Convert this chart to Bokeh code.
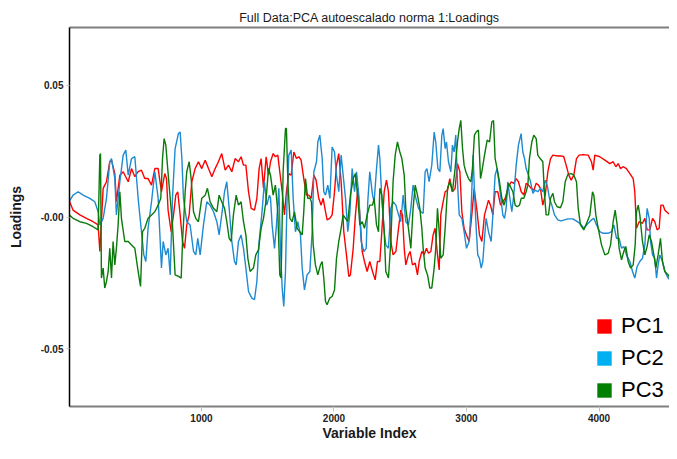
from bokeh.plotting import figure
from bokeh.models import (Range1d, FixedTicker, LinearAxis, Legend, LegendItem,
                          CustomJSTickFormatter)
from bokeh.embed import file_html
from bokeh.resources import INLINE

# ---- data (variable index, loading) ----
pc1 = [
    (1, 0.0064), (31, 0.0026), (82, 0.0008), (132, -0.0005), (182, -0.0018), (220, -0.0030), (233, -0.0131),
    (258, 0.0109), (283, 0.0134), (308, 0.0210), (321, 0.0216), (346, 0.0165), (358, 0.0058), (384, 0.0159),
    (409, 0.0172), (447, 0.0134), (472, 0.0184), (497, 0.0153), (522, 0.0172), (547, 0.0178), (572, 0.0146),
    (597, 0.0146), (623, 0.0121), (648, 0.0184), (673, 0.0184), (698, 0.0096), (723, 0.0165), (736, 0.0146),
    (748, 0.0026),
    (771, -0.0056), (789, 0.0008), (806, 0.0083), (821, 0.0096), (839, 0.0008), (857, -0.0093), (872, -0.0119),
    (889, -0.0030), (907, 0.0008), (927, 0.0134), (952, 0.0184), (977, 0.0210), (1002, 0.0184), (1028, 0.0216),
    (1053, 0.0184), (1078, 0.0153), (1103, 0.0184), (1128, 0.0210), (1153, 0.0241), (1179, 0.0178),
    (1204, 0.0197), (1229, 0.0172), (1254, 0.0222), (1279, 0.0210), (1299, 0.0229), (1317, 0.0197),
    (1335, 0.0197), (1355, 0.0096), (1375, 0.0033), (1400, 0.0026), (1418, 0.0071), (1435, 0.0184),
    (1450, 0.0222), (1468, 0.0109), (1488, 0.0229), (1506, 0.0159),
    (1521, 0.0210), (1541, 0.0241), (1558, 0.0229), (1576, 0.0235), (1591, 0.0172), (1609, 0.0096),
    (1626, 0.0008), (1641, 0.0096), (1659, 0.0165), (1677, 0.0159), (1697, 0.0247), (1717, 0.0222),
    (1735, 0.0229), (1752, 0.0216), (1772, 0.0146), (1792, 0.0083), (1810, 0.0083), (1828, 0.0071),
    (1848, 0.0159), (1865, 0.0140), (1885, 0.0071), (1903, 0.0045), (1918, 0.0071), (1936, 0.0020),
    (1948, -0.0011), (1968, -0.0005), (1986, 0.0008), (2004, 0.0096), (2019, 0.0197), (2036, 0.0241),
    (2054, 0.0134), (2074, -0.0056), (2094, -0.0144), (2112, -0.0226), (2124, -0.0220), (2145, -0.0119),
    (2162, 0.0008), (2180, 0.0109), (2195, 0.0008), (2213, -0.0131), (2230, -0.0169), (2250, -0.0207),
    (2270, -0.0169),
    (2291, -0.0207), (2311, -0.0239), (2328, -0.0169), (2346, -0.0169), (2361, -0.0056), (2379, 0.0096),
    (2396, 0.0140), (2411, 0.0096), (2429, -0.0093), (2446, -0.0144), (2467, -0.0131), (2484, -0.0056),
    (2504, 0.0026), (2517, 0.0008), (2530, -0.0119), (2542, -0.0182), (2562, -0.0144), (2575, -0.0131),
    (2592, -0.0182), (2613, -0.0175), (2630, -0.0220), (2643, -0.0169), (2663, -0.0131), (2680, -0.0144),
    (2698, -0.0119), (2713, -0.0138), (2731, -0.0131), (2748, -0.0068), (2763, -0.0043), (2781, -0.0144),
    (2794, -0.0201), (2806, 0.0008), (2819, 0.0045), (2839, 0.0096), (2857, 0.0102), (2874, 0.0146),
    (2894, 0.0096), (2914, 0.0109), (2932, 0.0203), (2950, 0.0172), (2965, 0.0020), (2982, -0.0043),
    (3000, -0.0068), (3020, -0.0093), (3040, 0.0008), (3058, 0.0109),
    (3080, 0.0020), (3098, -0.0068), (3116, -0.0093), (3136, 0.0008), (3156, 0.0045), (3166, 0.0064),
    (3181, 0.0045), (3199, 0.0008), (3216, 0.0096), (3236, 0.0096), (3257, 0.0045), (3274, 0.0058),
    (3292, 0.0071), (3312, 0.0109), (3337, 0.0134), (3357, 0.0128), (3375, 0.0146), (3392, 0.0134),
    (3413, 0.0096), (3433, 0.0083), (3450, 0.0128), (3468, 0.0121), (3488, 0.0109), (3508, 0.0102),
    (3526, 0.0128), (3543, 0.0121), (3558, 0.0109), (3576, 0.0045), (3594, 0.0083), (3614, 0.0172),
    (3634, 0.0222), (3652, 0.0235), (3689, 0.0232), (3714, 0.0232), (3734, 0.0229), (3752, 0.0197),
    (3772, 0.0159), (3790, 0.0140), (3810, 0.0159),
    (3830, 0.0222), (3850, 0.0235), (3880, 0.0237), (3918, 0.0235), (3943, 0.0210), (3956, 0.0178),
    (3968, 0.0235), (4006, 0.0229), (4044, 0.0216), (4082, 0.0203), (4107, 0.0210), (4127, 0.0191),
    (4145, 0.0203), (4162, 0.0184), (4182, 0.0191), (4207, 0.0184), (4233, 0.0165), (4258, 0.0146),
    (4270, 0.0096), (4283, -0.0043), (4303, -0.0018), (4328, -0.0024), (4346, -0.0005), (4363, -0.0049),
    (4384, -0.0049), (4404, -0.0005), (4421, -0.0018), (4439, -0.0049), (4454, -0.0043), (4467, 0.0045),
    (4484, 0.0045), (4497, 0.0026), (4522, 0.0014), (4547, 0.0008), (4565, 0.0033), (4580, 0.0090),
    (4592, 0.0102),
]

pc2 = [
    (1, 0.0058), (31, 0.0083), (69, 0.0096), (107, 0.0083), (157, 0.0071), (195, 0.0058), (220, 0.0020),
    (233, -0.0030), (258, -0.0005), (283, 0.0071), (308, 0.0210), (321, 0.0222), (346, 0.0146), (358, 0.0008),
    (384, 0.0134), (409, 0.0235), (429, 0.0254), (447, 0.0159), (472, 0.0222), (497, 0.0229), (522, 0.0071),
    (547, -0.0056), (565, -0.0144), (580, -0.0169), (597, -0.0043), (623, 0.0058), (648, 0.0172),
    (673, 0.0071), (698, -0.0194), (711, -0.0093), (731, -0.0144), (748, -0.0119),
    (764, -0.0220), (781, 0.0071), (801, 0.0260), (826, 0.0317), (839, 0.0323), (852, 0.0222), (864, 0.0071),
    (889, -0.0018), (914, -0.0030), (940, -0.0131), (957, -0.0144), (972, -0.0081), (990, -0.0144),
    (1015, -0.0030), (1040, 0.0058), (1065, 0.0045), (1091, 0.0020), (1116, -0.0018), (1133, -0.0068),
    (1153, 0.0008), (1174, 0.0096), (1191, 0.0134), (1209, 0.0033), (1229, -0.0093), (1249, -0.0169),
    (1262, -0.0182), (1279, -0.0093), (1299, -0.0068), (1317, -0.0119), (1335, -0.0194), (1355, -0.0283),
    (1380, -0.0308), (1400, -0.0314), (1418, -0.0245), (1435, -0.0093), (1455, 0.0008), (1475, 0.0134),
    (1493, 0.0045), (1513, 0.0083),
    (1521, 0.0071), (1533, -0.0030), (1551, -0.0119), (1566, -0.0030), (1584, 0.0109), (1596, -0.0119),
    (1609, -0.0270), (1621, -0.0340), (1634, -0.0207), (1646, 0.0071), (1659, 0.0235), (1677, 0.0254),
    (1692, 0.0071), (1709, -0.0056), (1727, -0.0018), (1747, -0.0068), (1760, -0.0194), (1777, -0.0277),
    (1797, -0.0220), (1818, -0.0207), (1835, -0.0056), (1848, 0.0172), (1868, 0.0210), (1878, 0.0285),
    (1893, 0.0311), (1911, 0.0222), (1923, 0.0096), (1936, 0.0083), (1953, 0.0121), (1969, 0.0071),
    (1986, 0.0266), (2004, 0.0247), (2019, 0.0159), (2036, 0.0096), (2054, 0.0235), (2069, 0.0159),
    (2087, 0.0071), (2104, -0.0056), (2119, 0.0008), (2137, 0.0184), (2155, 0.0096), (2170, 0.0172),
    (2187, 0.0083), (2205, -0.0093), (2225, -0.0131), (2243, -0.0119), (2255, 0.0058), (2270, 0.0172),
    (2291, 0.0083), (2303, 0.0058), (2321, 0.0184), (2336, 0.0273), (2346, 0.0222), (2361, 0.0071),
    (2379, -0.0056), (2391, -0.0106), (2411, -0.0119), (2429, 0.0033), (2446, 0.0058), (2467, 0.0045),
    (2487, 0.0008), (2504, -0.0018), (2522, 0.0083), (2542, -0.0018), (2562, -0.0030), (2580, 0.0033),
    (2597, 0.0121), (2618, 0.0071), (2638, 0.0033), (2655, 0.0020), (2673, 0.0014), (2688, 0.0172),
    (2701, 0.0184), (2718, 0.0134), (2738, 0.0197), (2756, 0.0323), (2768, 0.0285), (2784, 0.0184),
    (2799, 0.0172), (2814, 0.0311), (2824, 0.0336), (2839, 0.0260), (2849, 0.0285), (2864, 0.0210),
    (2882, 0.0172), (2894, 0.0273), (2907, 0.0247), (2919, 0.0311), (2932, 0.0134), (2945, 0.0008),
    (2965, -0.0005), (2982, -0.0056), (3000, -0.0119), (3020, -0.0093), (3035, 0.0033), (3050, 0.0235),
    (3060, 0.0096), (3073, -0.0043), (3085, -0.0144), (3098, -0.0157), (3111, -0.0194), (3123, -0.0169),
    (3136, -0.0081), (3148, -0.0005), (3166, -0.0056), (3186, -0.0093), (3199, 0.0008), (3216, 0.0159),
    (3231, 0.0184), (3241, 0.0146), (3257, 0.0083), (3274, 0.0008), (3287, -0.0005), (3299, 0.0033),
    (3312, 0.0134), (3324, 0.0083), (3342, 0.0020), (3357, 0.0083), (3375, 0.0197), (3392, 0.0273),
    (3412, 0.0317), (3425, 0.0247), (3438, 0.0222), (3450, 0.0184), (3468, 0.0159), (3483, 0.0134),
    (3501, 0.0090), (3518, 0.0102), (3538, 0.0096), (3558, 0.0109), (3576, 0.0096), (3594, 0.0140),
    (3609, 0.0121), (3626, 0.0071), (3644, 0.0045), (3664, 0.0008), (3689, -0.0011), (3714, -0.0015),
    (3739, -0.0011), (3765, -0.0007), (3802, -0.0007), (3828, -0.0015),
    (3855, -0.0024), (3886, -0.0043), (3918, -0.0024), (3943, -0.0011), (3961, -0.0005), (3981, -0.0030),
    (4006, -0.0056), (4031, -0.0062), (4069, -0.0062), (4094, -0.0056), (4112, -0.0030), (4132, -0.0081),
    (4152, -0.0081), (4170, -0.0119), (4187, -0.0112), (4207, -0.0144), (4233, -0.0169), (4253, -0.0207),
    (4270, -0.0232), (4288, -0.0188), (4308, -0.0169), (4328, -0.0157), (4346, -0.0106), (4363, 0.0033),
    (4379, -0.0005), (4389, -0.0093), (4404, -0.0144), (4421, -0.0157), (4434, -0.0232), (4446, -0.0182),
    (4459, -0.0144), (4479, -0.0169), (4497, -0.0207), (4522, -0.0232), (4547, -0.0245), (4572, -0.0258),
    (4592, -0.0255),
]

pc3 = [
    (1, 0.0008), (31, -0.0005), (82, -0.0018), (132, -0.0024), (182, -0.0037), (220, -0.0049), (233, 0.0235),
    (238, 0.0241), (245, -0.0232), (258, -0.0194), (270, -0.0270), (283, -0.0245), (296, -0.0207),
    (308, -0.0119), (321, -0.0232), (333, -0.0093), (346, -0.0182), (358, -0.0119), (371, -0.0030),
    (384, 0.0096), (396, -0.0005), (421, -0.0093), (447, -0.0093), (472, -0.0106), (497, -0.0119),
    (522, -0.0207), (540, -0.0264), (555, -0.0056), (572, -0.0043), (597, -0.0005), (623, 0.0008),
    (648, 0.0020), (673, 0.0045), (693, 0.0071), (706, 0.0222), (718, 0.0298), (731, 0.0273), (743, 0.0197),
    (764, 0.0071), (781, -0.0030), (801, -0.0220), (826, -0.0226), (847, -0.0232), (857, -0.0093),
    (877, 0.0096), (889, 0.0172), (907, 0.0210), (922, 0.0146), (940, 0.0020), (957, -0.0005),
    (977, -0.0018), (1002, 0.0071), (1028, 0.0083), (1045, 0.0109), (1065, 0.0058), (1091, 0.0033),
    (1116, 0.0020), (1133, 0.0083), (1153, 0.0058), (1174, 0.0033), (1191, -0.0018), (1209, -0.0081),
    (1224, -0.0093), (1241, 0.0008), (1262, 0.0083), (1279, 0.0045), (1299, 0.0058), (1317, -0.0018),
    (1335, -0.0068), (1350, -0.0157), (1367, -0.0207), (1392, -0.0194), (1410, -0.0144), (1430, -0.0125),
    (1450, -0.0043), (1468, -0.0005), (1486, 0.0058), (1506, 0.0184),
    (1521, 0.0159), (1541, 0.0083), (1558, 0.0121), (1576, 0.0020), (1591, -0.0220), (1601, -0.0232),
    (1616, 0.0172), (1634, 0.0336), (1641, 0.0336), (1652, 0.0134), (1667, -0.0005), (1684, -0.0018),
    (1702, 0.0020), (1722, -0.0043), (1742, -0.0056), (1760, -0.0068), (1772, 0.0020), (1785, 0.0146),
    (1802, 0.0071), (1818, 0.0071), (1830, 0.0058), (1843, -0.0106), (1860, -0.0182), (1878, -0.0220),
    (1898, -0.0182), (1911, -0.0169), (1923, -0.0232), (1936, -0.0321), (1948, -0.0333), (1968, -0.0308),
    (1986, -0.0302), (2004, -0.0277), (2019, -0.0157), (2036, -0.0093), (2054, -0.0043), (2069, 0.0008),
    (2087, -0.0005), (2104, -0.0018), (2124, 0.0083), (2145, 0.0146), (2162, 0.0165), (2180, 0.0071),
    (2195, -0.0030), (2213, -0.0018), (2230, -0.0043), (2250, 0.0008), (2270, 0.0045),
    (2291, 0.0045), (2303, 0.0071), (2321, -0.0030), (2336, -0.0056), (2346, 0.0109), (2361, 0.0083),
    (2379, -0.0056), (2391, -0.0207), (2411, -0.0232), (2429, -0.0093), (2446, 0.0134), (2462, 0.0235),
    (2479, 0.0285), (2497, 0.0247), (2512, 0.0222), (2530, 0.0159), (2542, 0.0033), (2562, -0.0043),
    (2580, -0.0119), (2597, 0.0033), (2613, 0.0121), (2630, 0.0083), (2648, 0.0033), (2663, -0.0043),
    (2673, -0.0119), (2688, -0.0194), (2706, -0.0220), (2723, -0.0270), (2738, -0.0270), (2756, -0.0194),
    (2768, -0.0119), (2781, 0.0033), (2794, -0.0056), (2806, -0.0157), (2824, -0.0144), (2839, -0.0043),
    (2857, 0.0109), (2874, 0.0134), (2894, 0.0096), (2914, 0.0184), (2932, 0.0285), (2945, 0.0336),
    (2957, 0.0367), (2970, 0.0260), (2982, 0.0197), (2995, 0.0172), (3015, 0.0146), (3033, 0.0134),
    (3045, 0.0184),
    (3060, 0.0311), (3073, 0.0323), (3090, 0.0330), (3106, 0.0146), (3116, 0.0172), (3136, 0.0235),
    (3156, 0.0292), (3174, 0.0285), (3191, 0.0361), (3204, 0.0367), (3216, 0.0222), (3231, 0.0184),
    (3249, 0.0134), (3267, 0.0071), (3282, 0.0045), (3299, 0.0071), (3317, 0.0128), (3332, 0.0115),
    (3350, 0.0096), (3367, 0.0045), (3382, 0.0039), (3400, 0.0045), (3413, 0.0071), (3433, 0.0071),
    (3450, 0.0096), (3463, 0.0121), (3475, 0.0222), (3493, 0.0285), (3508, 0.0311), (3526, 0.0298),
    (3538, 0.0235), (3556, 0.0222), (3576, 0.0210), (3589, 0.0083), (3601, 0.0008), (3619, 0.0008),
    (3634, 0.0071), (3652, 0.0090), (3664, 0.0058), (3684, 0.0039), (3709, 0.0035), (3727, 0.0058),
    (3745, 0.0134), (3765, 0.0162), (3790, 0.0165), (3810, 0.0159),
    (3830, 0.0134), (3843, 0.0033), (3860, -0.0030), (3885, -0.0049), (3911, -0.0018), (3931, 0.0008),
    (3951, 0.0096), (3961, 0.0083), (3976, 0.0008), (3994, -0.0043), (4019, -0.0106), (4044, -0.0144),
    (4069, -0.0138), (4087, -0.0106), (4107, -0.0018), (4122, 0.0026), (4137, -0.0030), (4152, -0.0119),
    (4170, -0.0163), (4187, -0.0131), (4202, -0.0112), (4220, -0.0169), (4238, -0.0194), (4258, -0.0182),
    (4273, -0.0106), (4283, 0.0020), (4296, 0.0045), (4308, 0.0008), (4328, -0.0093), (4346, -0.0144),
    (4363, -0.0112), (4379, -0.0068), (4396, -0.0093), (4414, -0.0144), (4429, -0.0194), (4446, -0.0144),
    (4464, -0.0081), (4479, -0.0169), (4497, -0.0207), (4522, -0.0220), (4547, -0.0245), (4567, -0.0258),
    (4580, -0.0207), (4592, -0.0182),
]

series_names = ["PC1", "PC2", "PC3"]
line_colors = ["#FF0000", "#1E8AD2", "#0A7A0A"]
legend_colors = ["#FF0000", "#00B0F0", "#007F00"]
x_ticks = [1000, 2000, 3000, 4000]
y_ticks = [-0.05, 0, 0.05]

FONT = "Liberation Sans"

p = figure(width=669, height=443, output_backend="svg", toolbar_location=None,
           x_range=Range1d(4, 4532), y_range=Range1d(-0.0720, 0.0720),
           title="Full Data:PCA autoescalado norma 1:Loadings",
           min_border_left=69, min_border_right=0, min_border_top=27, min_border_bottom=36,
           background_fill_color="white", border_fill_color="white")

p.title.align = "center"
p.title.text_font = FONT
p.title.text_font_size = "12.5px"
p.title.text_font_style = "normal"
p.title.text_color = "#1a1a1a"
p.title.standoff = 6

p.outline_line_color = None
p.xgrid.visible = False
p.ygrid.visible = False

# x axis
xa = p.xaxis[0]
xa.ticker = FixedTicker(ticks=x_ticks)
xa.axis_label = "Variable Index"
xa.axis_label_text_font = FONT
xa.axis_label_text_font_size = "14px"
xa.axis_label_text_font_style = "bold"
xa.axis_label_text_color = "#1a1a1a"
xa.axis_label_standoff = 0
xa.major_label_text_font = FONT
xa.major_label_text_font_size = "10px"
xa.major_label_text_font_style = "bold"
xa.major_label_text_color = "#222222"
xa.major_label_standoff = 2
xa.axis_line_color = "#7f7f7f"
xa.axis_line_width = 2
xa.major_tick_line_color = "#c0c0c0"
xa.major_tick_out = 5
xa.major_tick_in = 0
xa.minor_tick_line_color = None

# y axis
ya = p.yaxis[0]
ya.ticker = FixedTicker(ticks=y_ticks)
ya.formatter = CustomJSTickFormatter(code="return tick == 0 ? '-0.00' : tick.toFixed(2);")
ya.axis_label = "Loadings"
ya.axis_label_text_font = FONT
ya.axis_label_text_font_size = "14px"
ya.axis_label_text_font_style = "bold"
ya.axis_label_text_color = "#1a1a1a"
ya.axis_label_standoff = 14
ya.major_label_text_font = FONT
ya.major_label_text_font_size = "10px"
ya.major_label_text_font_style = "bold"
ya.major_label_text_color = "#222222"
ya.major_label_standoff = 3
ya.axis_line_color = "black"
ya.axis_line_width = 1.5
ya.major_tick_line_color = "#c0c0c0"
ya.major_tick_out = 3
ya.major_tick_in = 0
ya.minor_tick_line_color = None

# top border as an axis without ticks
top = LinearAxis(ticker=FixedTicker(ticks=[]), major_label_text_font_size="0px",
                 axis_line_color="#7f7f7f", axis_line_width=2,
                 major_tick_line_color=None, minor_tick_line_color=None,
                 major_tick_out=0, major_tick_in=0, major_label_standoff=0)
p.add_layout(top, "above")

for data, col in zip([pc1, pc2, pc3], line_colors):
    xs = [d[0] for d in data]
    ys = [d[1] for d in data]
    p.line(xs, ys, line_color=col, line_width=1.4)

nan = float("nan")
items = []
for name, col in zip(series_names, legend_colors):
    q = p.quad(left=[nan], right=[nan], top=[nan], bottom=[nan], fill_color=col, line_color=None)
    items.append(LegendItem(label=name, renderers=[q]))

legend = Legend(items=items, location=(526, 3), orientation="vertical",
                glyph_width=18, glyph_height=18, label_height=16,
                label_text_font=FONT, label_text_font_size="22px", label_text_color="black",
                label_standoff=8, spacing=6, padding=0, margin=0,
                border_line_color=None, background_fill_alpha=0)
p.add_layout(legend)

open("out.html", "w").write(file_html(p, INLINE))
